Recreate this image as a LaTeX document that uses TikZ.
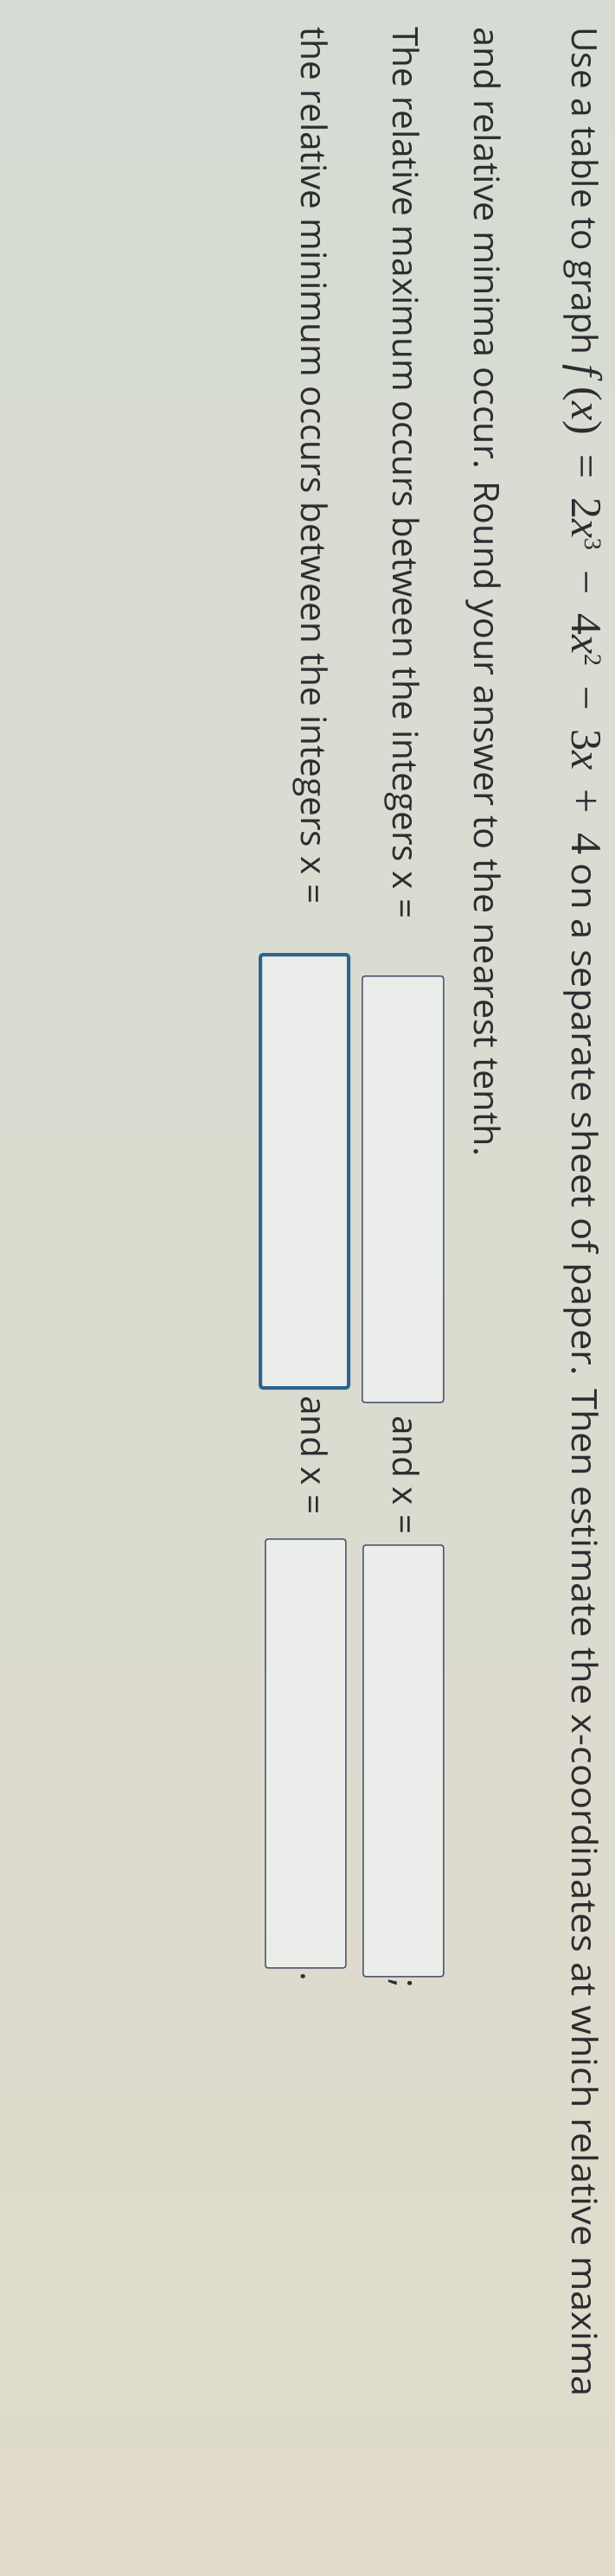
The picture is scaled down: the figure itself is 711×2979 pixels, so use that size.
\documentclass[tikz,border=0pt]{standalone}
\usepackage{fontspec}
\setmainfont{Open Sans}
\newfontfamily\mathser{Liberation Serif}
\newcommand{\mv}[1]{{\mathser\fontsize{50}{52}\selectfont\itshape #1}}
\newcommand{\ms}[1]{{\mathser\fontsize{50}{52}\selectfont #1}}
\newcommand{\sop}[1]{\hspace{0.55em}\ms{#1}\hspace{0.55em}}
\newcommand{\msup}[1]{\raisebox{0.38em}{\mathser\fontsize{28}{30}\selectfont #1}}
\definecolor{bgtop}{RGB}{214,220,212}
\definecolor{bgbot}{RGB}{224,219,204}
\definecolor{txt}{RGB}{45,45,48}
\definecolor{boxc}{RGB}{80,88,115}
\definecolor{focus}{RGB}{45,100,145}
\begin{document}
\begin{tikzpicture}[x=1pt,y=-1pt,
  line/.style={rotate=-90,anchor=base west,inner sep=0pt,text=txt,font=\fontsize{40.5}{44}\selectfont},
  ansbox/.style={draw=boxc,line width=1.6pt,rounded corners=3pt,fill=bgtop!50!white}]
\useasboundingbox (0,0) rectangle (711,2979);
\shade[top color=bgtop, bottom color=bgbot] (0,0) rectangle (711,2979);
\node[line] (l1) at (661,31) {Use a table to graph \mv{f}\hspace{0.3em}\ms{(}\mv{x}\ms{)}\sop{=}\ms{2}\mv{x}\msup{3}\sop{−}\ms{4}\mv{x}\msup{2}\sop{−}\ms{3}\mv{x}\sop{+}\ms{4} \scalebox{1.07}[1]{on a separate sheet of paper. Then estimate the x-coordinates at which relative maxima}};
\node[line] (l2) at (548,31) {\scalebox{1.02}[1]{and relative minima occur. Round your answer to the nearest tenth.}};
\node[line] (l3) at (454,31) {The relative maximum occurs between the integers x =};
\node[line] (l4) at (348,31) {the relative minimum occurs between the integers x =};
\node[ansbox,minimum width=94pt,minimum height=493pt,anchor=north west] (b1) at (418,1128) {};
\node[line] (a1) at (454,1637) {and x =};
\node[ansbox,minimum width=93pt,minimum height=499pt,anchor=north west] (b2) at (419,1786) {};
\node[line] (s1) at (454,2288) {;};
\node[ansbox,draw=focus,line width=4pt,minimum width=102pt,minimum height=501pt,anchor=north west] (b3) at (299,1102) {};
\node[line] (a2) at (348,1614) {and x =};
\node[ansbox,minimum width=93pt,minimum height=496pt,anchor=north west] (b4) at (306,1779) {};
\node[line] (s2) at (348,2280) {.};
\end{tikzpicture}
\end{document}
